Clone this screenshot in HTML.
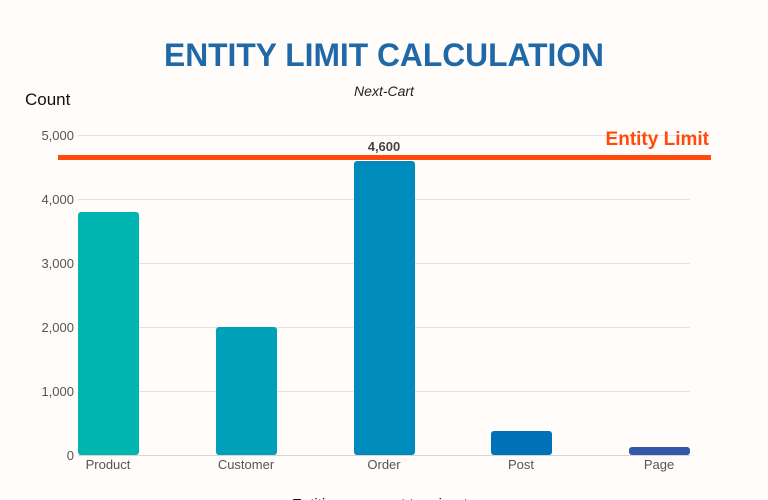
<!DOCTYPE html>
<html><head><meta charset="utf-8"><style>
html,body{margin:0;padding:0;background:#fffcfa;}
svg{display:block;}
</style></head><body>
<svg width="768" height="500" viewBox="0 0 768 500" xmlns="http://www.w3.org/2000/svg" font-family="Liberation Sans, DejaVu Sans, sans-serif">
<rect width="768" height="500" fill="#fffcfa"/>
<text x="384" y="66" text-anchor="middle" font-size="32" font-weight="bold" fill="#1f69a8" textLength="440" lengthAdjust="spacingAndGlyphs">ENTITY LIMIT CALCULATION</text>
<text x="384" y="96" text-anchor="middle" font-size="14" font-style="italic" fill="#222">Next-Cart</text>
<text x="25" y="105" font-size="17" fill="#111">Count</text>
<g stroke="#e4e2e0" stroke-width="1">
<line x1="78" y1="135.5" x2="690" y2="135.5"/>
<line x1="78" y1="199.5" x2="690" y2="199.5"/>
<line x1="78" y1="263.5" x2="690" y2="263.5"/>
<line x1="78" y1="327.5" x2="690" y2="327.5"/>
<line x1="78" y1="391.5" x2="690" y2="391.5"/>
<line x1="78" y1="455.5" x2="690" y2="455.5" stroke="#d8d6d4"/>
</g>
<g font-size="13" fill="#555" text-anchor="end">
<text x="74" y="140">5,000</text>
<text x="74" y="204">4,000</text>
<text x="74" y="268">3,000</text>
<text x="74" y="332">2,000</text>
<text x="74" y="396">1,000</text>
<text x="74" y="460">0</text>
</g>
<rect x="78" y="212" width="61" height="243" rx="3" fill="#00b5b0"/>
<rect x="216" y="327" width="61" height="128" rx="3" fill="#00a0b8"/>
<rect x="354" y="161" width="61" height="294" rx="3" fill="#008bbd"/>
<rect x="491" y="431" width="61" height="24" rx="3" fill="#0073b8"/>
<rect x="629" y="447" width="61" height="8" rx="3" fill="#3358a8"/>
<rect x="58" y="155" width="653" height="5" fill="#ff4a0a"/>
<text x="384" y="151" text-anchor="middle" font-size="13" font-weight="bold" fill="#444">4,600</text>
<text x="709" y="145" text-anchor="end" font-size="19" font-weight="bold" fill="#ff4a0a">Entity Limit</text>
<g font-size="13" fill="#555" text-anchor="middle">
<text x="108" y="469">Product</text>
<text x="246" y="469">Customer</text>
<text x="384" y="469">Order</text>
<text x="521" y="469">Post</text>
<text x="659" y="469">Page</text>
</g>
<text x="384" y="509" text-anchor="middle" font-size="15" fill="#111">Entities you want to migrate</text>
</svg>
</body></html>
